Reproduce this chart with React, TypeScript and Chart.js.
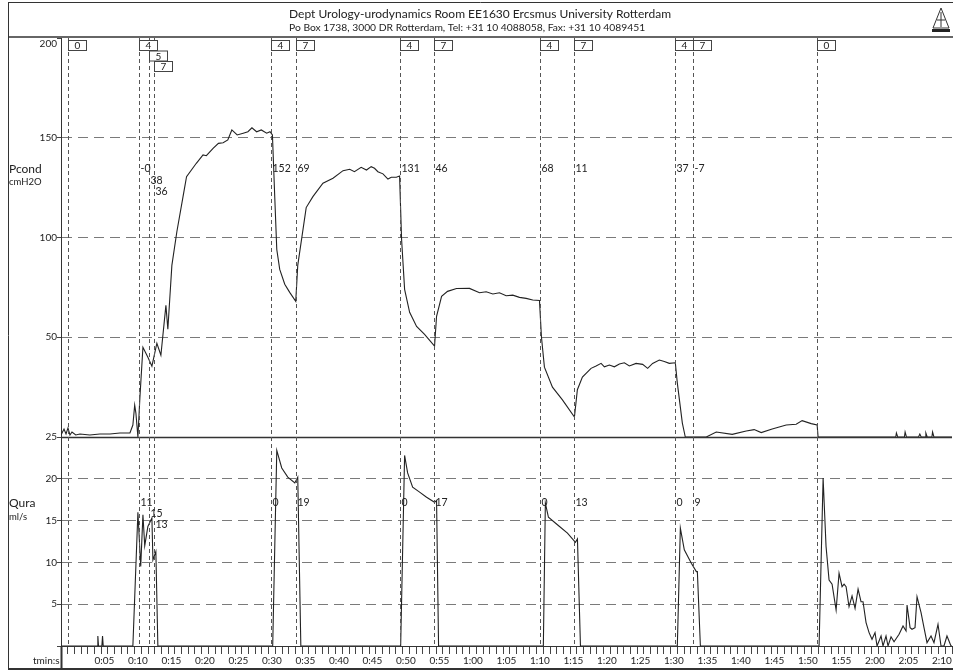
import React, { useEffect, useRef } from "react";
import { Chart, registerables } from "chart.js";

Chart.register(...registerables);

const FONT = "Lato, 'DejaVu Sans', sans-serif";

// ---- data (time in seconds) ----
const pressureTime = [
  0, 0.15, 0.45, 0.75, 1.04, 1.34, 1.64, 2.2, 2.83, 4.3, 5.8, 7.3, 8.8, 10.29, 10.73, 11.0, 11.18, 11.48,
  11.78, 12.23, 12.97, 13.57, 14.31, 14.91, 15.66, 15.95, 16.55, 17.3, 18.19, 18.74, 20.2, 21.2, 21.7, 22.7,
  23.5, 24.2, 24.9, 25.5, 26.3, 27.2, 27.9, 28.5, 29.2, 29.9, 30.7, 31.2, 31.56,
  31.91, 32.21, 32.65, 33.4, 34.14, 35.04,
  35.34, 36.6, 37.6, 39.1, 40.6, 42.1, 43.1, 43.8, 44.8, 45.6, 46.3, 46.8, 47.3, 48.06, 48.8, 49.3, 50.05, 50.54,
  50.84, 51.29, 52.04, 53.08, 54.27, 55.76,
  56.06, 56.81, 57.7, 59.04, 60.98, 62.47, 63.47, 64.46, 65.45, 66.45, 67.44, 68.44, 69.43, 70.42, 71.42,
  71.72, 72.16, 73.36, 74.85, 76.64,
  77.08, 77.83, 79.12, 79.87, 80.62, 81.11, 81.86, 82.6, 83.35, 84.09, 84.84, 85.84, 86.82, 87.57, 88.31,
  89.31, 90.06, 90.8, 91.7,
  92.0, 92.75, 93.19, 96.32, 97.81, 100.19, 102.28, 103.47, 104.52, 106.16, 108.25, 109.74,
  110.63, 111.98, 112.87, 113.01, 124.6, 124.7, 124.9, 125.9, 126.0, 126.2, 128.0, 128.2, 128.4, 129.0,
  129.1, 129.3, 130.0, 130.1, 130.3, 133,
];
const pressureValue = [
  1, 2, 4, 1.5, 4.5, 1, 2.5, 1, 1.5, 1, 1.5, 1.5, 2, 2, 6, 16, 12, 0,
  20, 45, 40, 35.5, 47, 41, 66, 54, 86, 103, 120, 130.5, 137.2, 141.4, 141, 144.7,
  147.2, 147.5, 148.9, 153.9, 151.4, 152.3, 153, 155, 153, 153.9, 152.3, 153, 151.4,
  120, 94, 84, 76.6, 72.5, 68,
  86, 115, 120.5, 127.2, 129.7, 133.5, 134.2, 133, 135.2, 133.8, 135.5, 134.7, 133, 131.9, 129.3, 130.2, 130.2, 130.8,
  99, 74, 62.5, 55.4, 51.4, 45.5,
  60.5, 70.5, 73, 74.4, 74.5, 72.3, 72.8, 71.7, 72.3, 70.8, 71.1, 70, 69.5, 68.7, 68.4,
  50, 35, 25, 18.6, 10,
  23.7, 30, 34.4, 35.6, 36.9, 35.2, 36.1, 35.2, 36.6, 37.2, 35.6, 36.9, 36.4, 34.4, 36.9,
  38.6, 37.8, 36.9, 37.2,
  27, 7, 0, 0, 2.5, 1.3, 3, 3.7, 2.2, 4, 6, 6.4,
  8.2, 6.7, 6, 0, 0, 2, 0, 0, 2.5, 0, 0, 1.5, 0, 0,
  2, 0, 0, 2.5, 0, 0,
];

const flowTime = [
  0, 5.4, 5.5, 5.6, 6.1, 6.2, 6.3, 10.73, 11.48, 11.9, 12.23, 12.5, 12.97, 13.57, 13.72, 14.16, 14.46,
  31.6, 32.21, 32.95, 33.85, 34.9, 35.34, 35.8,
  50.7, 51.29, 51.74, 52.49, 53.53, 54.57, 55.76, 56.06, 56.36,
  72.0, 72.3, 72.76, 74.1, 75.6, 76.79, 77.09, 77.54,
  92.0, 92.45, 93.04, 94.09, 94.84, 94.99, 95.44,
  113.16, 113.76, 114.2, 114.65, 115.1, 115.7, 116.14, 116.59, 116.89, 117.19, 117.63, 118.08, 118.53,
  118.98, 119.42, 119.72, 120.17, 120.62, 121.06, 121.51, 121.81, 122.41, 122.7, 123.15, 123.45, 123.9,
  124.35, 125.1, 125.69, 126.14, 126.29, 126.74, 127.03, 127.48, 127.78, 128.38, 128.82, 129.27, 129.87,
  130.31, 130.91, 131.36, 131.8, 132.25, 132.85, 133,
];
const flowValue = [
  0, 0, 1.2, 0, 0, 1.2, 0, 0, 16, 9.5, 15.7, 12, 14.3, 15.3, 10.3, 11.3, 0,
  0, 23.4, 21.3, 20.2, 19.5, 20.2, 0,
  0, 22.8, 20.7, 19, 18.4, 17.8, 17.2, 17.4, 0,
  0, 17.1, 15.4, 14.5, 13.5, 12.4, 12.8, 0,
  0, 14.1, 11.5, 9.9, 8.9, 8.9, 0,
  0, 20.1, 11.9, 7.9, 7.4, 4.3, 8.7, 7.1, 7.4, 7.1, 4.7, 6, 4.5,
  6.8, 5.3, 5.3, 2.8, 1.6, 0.8, 1.6, 0, 1.2, 0, 1.2, 0, 1.1,
  0.5, 1.4, 2.4, 1.8, 4.9, 2.2, 2, 2.2, 5.9, 4, 2.2, 0.4, 1.2,
  0.4, 2.6, 0, 0, 1.2, 0, 0,
];

const eventTime = [1.04, 11.63, 13.12, 13.87, 31.31, 35.04, 50.54, 55.61, 71.57, 76.64, 91.7, 94.38, 112.87];
const eventCode = ["0", "4", "5", "7", "4", "7", "4", "7", "4", "7", "4", "7", "0"];
const eventPressureLabel = ["", "-0", "38", "36", "152", "69", "131", "46", "68", "11", "37", "-7", ""];
const eventFlowLabel = ["", "11", "15", "13", "0", "19", "0", "17", "0", "13", "0", "9", ""];

const headerLines = [
  "Dept Urology-urodynamics Room EE1630 Ercsmus University Rotterdam",
  "Po Box 1738, 3000 DR Rotterdam, Tel: +31 10 4088058, Fax: +31 10 4089451",
];
const pressureTitle = ["Pcond", "cmH2O"];
const flowTitle = ["Qura", "ml/s"];
const timeTitle = "tmin:s";
const pressureMax = 200;

const fmtTime = (v: number) => `${Math.floor(v / 60)}:${String(v % 60).padStart(2, "0")}`;

const framePlugin = {
  id: "frame",
  beforeDraw(chart: any) {
    const { ctx, width, height } = chart;
    ctx.save();
    ctx.fillStyle = "#fff";
    ctx.fillRect(0, 0, width, height);
    ctx.restore();
  },
  afterDraw(chart: any) {
    const { ctx, chartArea: ca, scales } = chart;
    const xs = scales.x, yP = scales.yP, yQ = scales.yQ;
    ctx.save();
    ctx.strokeStyle = "#333";
    ctx.lineWidth = 1;
    // header frame
    ctx.beginPath();
    ctx.moveTo(8, 2.5); ctx.lineTo(953, 2.5);
    ctx.moveTo(8.5, 2); ctx.lineTo(8.5, 669);
    ctx.stroke();
    ctx.lineWidth = 1.5;
    ctx.beginPath();
    ctx.moveTo(8, ca.top - 1); ctx.lineTo(953, ca.top - 1);
    ctx.stroke();
    ctx.fillStyle = "#222";
    ctx.textAlign = "left";
    ctx.textBaseline = "middle";
    ctx.font = `12px ${FONT}`;
    ctx.fillText(headerLines[0], 289, 14);
    ctx.font = `10.3px ${FONT}`;
    ctx.fillText(headerLines[1], 289, 28);
    // small logo
    ctx.lineWidth = 1;
    ctx.beginPath();
    ctx.moveTo(941, 8); ctx.lineTo(933, 28); ctx.lineTo(949, 28); ctx.closePath();
    ctx.stroke();
    ctx.beginPath();
    ctx.moveTo(941, 12); ctx.lineTo(941, 27);
    ctx.moveTo(937, 20); ctx.lineTo(945, 20);
    ctx.stroke();
    ctx.fillRect(932, 29, 18, 3);

    // top pressure tick label (sits just under the frame)
    ctx.textAlign = "right";
    ctx.font = `10px ${FONT}`;
    ctx.fillText(String(pressureMax), ca.left - 4, yP.getPixelForValue(pressureMax) + 6);

    // panel divider and bottom frame
    const yDiv = Math.round(yP.getPixelForValue(0)) + 0.5;
    ctx.strokeStyle = "#333";
    ctx.lineWidth = 1.5;
    ctx.beginPath();
    ctx.moveTo(ca.left, yDiv); ctx.lineTo(ca.right, yDiv);
    ctx.stroke();
    ctx.lineWidth = 2;
    ctx.beginPath();
    ctx.moveTo(8, 669); ctx.lineTo(953, 669);
    ctx.moveTo(ca.left + 0.5, ca.bottom); ctx.lineTo(ca.left + 0.5, 669);
    ctx.stroke();

    // event lines
    ctx.strokeStyle = "#555";
    ctx.lineWidth = 1;
    ctx.setLineDash([4, 3]);
    const px = eventTime.map((t) => Math.round(xs.getPixelForValue(t)) + 0.5);
    px.forEach((x) => {
      ctx.beginPath();
      ctx.moveTo(x, ca.top); ctx.lineTo(x, ca.bottom);
      ctx.stroke();
    });
    ctx.setLineDash([]);

    // rows for close events
    const rows: number[] = [];
    eventTime.forEach((t, i) => {
      rows.push(i > 0 && t - eventTime[i - 1] < 2.5 ? rows[i - 1] + 1 : 0);
    });

    // boxes
    ctx.font = `10px ${FONT}`;
    ctx.textAlign = "center";
    ctx.textBaseline = "middle";
    eventCode.forEach((c, i) => {
      const bx = px[i];
      const by = ca.top + 2.5 + rows[i] * 10.5;
      ctx.fillStyle = "#fff";
      ctx.fillRect(bx, by, 18, 10);
      ctx.strokeStyle = "#444";
      ctx.strokeRect(bx, by, 18, 10);
      ctx.fillStyle = "#222";
      ctx.fillText(c, bx + 9, by + 5.5);
    });

    // value labels
    ctx.textAlign = "left";
    ctx.font = `10.5px ${FONT}`;
    ctx.fillStyle = "#222";
    eventPressureLabel.forEach((s, i) => {
      if (!s) return;
      ctx.fillText(s, px[i] + 1, yP.top + 131 + rows[i] * 11.5);
    });
    eventFlowLabel.forEach((s, i) => {
      if (!s) return;
      ctx.fillText(s, px[i] + 1, yQ.top + 66 + rows[i] * 11);
    });

    // axis titles
    ctx.font = `12px ${FONT}`;
    ctx.fillText(pressureTitle[0], 9, 169);
    ctx.fillText(flowTitle[0], 9, 503);
    ctx.font = `9.5px ${FONT}`;
    ctx.fillText(pressureTitle[1], 9, 182);
    ctx.fillText(flowTitle[1], 9, 517);
    ctx.font = `10px ${FONT}`;
    ctx.fillText(timeTitle, 33, 661);
    ctx.restore();
  },
};

export default function App() {
  const ref = useRef<HTMLCanvasElement | null>(null);
  useEffect(() => {
    if (!ref.current) return;
    const chart = new Chart(ref.current, {
      type: "line",
      data: {
        datasets: [
          {
            label: "Pcond",
            data: pressureTime.map((t, i) => ({ x: t, y: pressureValue[i] })),
            yAxisID: "yP",
            borderColor: "#222",
            borderWidth: 1.1,
            pointRadius: 0,
            tension: 0,
          },
          {
            label: "Qura",
            data: flowTime.map((t, i) => ({ x: t, y: flowValue[i] })),
            yAxisID: "yQ",
            borderColor: "#222",
            borderWidth: 1.1,
            pointRadius: 0,
            tension: 0,
          },
        ],
      },
      options: {
        animation: false,
        responsive: false,
        maintainAspectRatio: false,
        devicePixelRatio: 1,
        events: [],
        layout: { padding: { left: 8, top: 38, right: 0, bottom: 2 } },
        plugins: { legend: { display: false }, tooltip: { enabled: false } },
        scales: {
          x: {
            type: "linear",
            position: "bottom",
            min: 0,
            max: 133,
            afterFit: (s: any) => { s.height = 23; },
            border: { display: true, color: "#333", width: 1 },
            grid: { drawOnChartArea: false, drawTicks: true, tickLength: 8, tickColor: "#444" },
            ticks: {
              stepSize: 1,
              autoSkip: false,
              maxRotation: 0,
              align: "start",
              padding: 1,
              color: "#222",
              font: { family: FONT, size: 10 },
              callback: (v: any) => (v > 0 && v % 5 === 0 ? fmtTime(v) : ""),
            },
          },
          yQ: {
            type: "linear",
            position: "left",
            stack: "panels",
            stackWeight: 209,
            min: 0,
            max: 25,
            afterFit: (s: any) => { s.width = 53; },
            border: { display: true, color: "#333", width: 1, dash: [10, 6] },
            grid: {
              color: (c: any) => (c.tick && (c.tick.value === 0 || c.tick.value === 25) ? "rgba(0,0,0,0)" : "#7a7a7a"),
              tickColor: "#444",
              tickLength: 4,
            },
            ticks: {
              stepSize: 5,
              padding: 0,
              color: "#222",
              font: { family: FONT, size: 10 },
              callback: (v: any) => (v === 0 ? "" : String(v)),
            },
          },
          yP: {
            type: "linear",
            position: "left",
            stack: "panels",
            stackWeight: 399,
            min: 0,
            max: pressureMax,
            afterFit: (s: any) => { s.width = 53; },
            border: { display: true, color: "#333", width: 1, dash: [10, 6] },
            grid: {
              color: (c: any) => (c.tick && (c.tick.value === 0 || c.tick.value === pressureMax) ? "rgba(0,0,0,0)" : "#7a7a7a"),
              tickColor: "#444",
              tickLength: 4,
            },
            ticks: {
              stepSize: 50,
              padding: 0,
              color: "#222",
              font: { family: FONT, size: 10 },
              callback: (v: any) => (v === 0 || v === pressureMax ? "" : String(v)),
            },
          },
        },
      } as any,
      plugins: [framePlugin],
    });
    return () => chart.destroy();
  }, []);
  return (
    <div style={{ position: "absolute", left: 0, top: 0, width: 953, height: 671, background: "#fff" }}>
      <canvas ref={ref} width={953} height={671} style={{ display: "block" }} />
    </div>
  );
}
